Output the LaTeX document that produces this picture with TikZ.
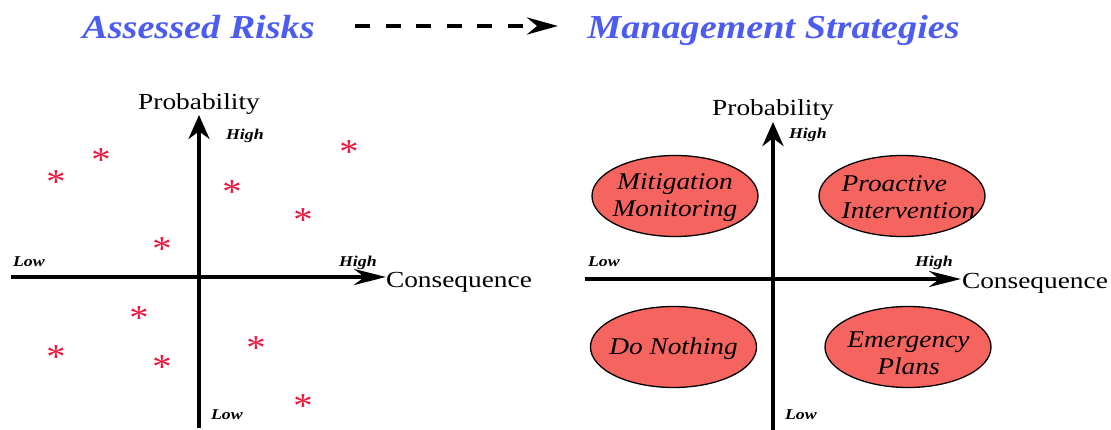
\documentclass[tikz,border=0pt]{standalone}
\usepackage{fontspec}
\setmainfont{Liberation Serif}
\usetikzlibrary{arrows.meta,shapes.geometric}
\definecolor{titleblue}{RGB}{76,92,240}
\definecolor{ellfill}{RGB}{246,100,96}
\definecolor{astred}{RGB}{240,20,60}
\tikzset{
  txt/.style={inner sep=0pt, outer sep=0pt},
  ttl/.style={txt, xscale=1.14, text=titleblue, font=\fontsize{33.5}{33.5}\selectfont\bfseries\itshape, anchor=base},
  axlab/.style={txt, xscale=1.19, font=\fontsize{23}{23}\selectfont},
  hl/.style={txt, xscale=1.19, font=\fontsize{15}{15}\selectfont\bfseries\itshape, anchor=base west},
  haxis/.style={line width=4pt, -{Stealth[length=32pt,width=16pt]}},
  vaxis/.style={line width=4pt, -{Stealth[length=24pt,width=21pt]}},
  strat/.style={ellipse, draw=black, line width=1.3pt, fill=ellfill, minimum width=166pt, minimum height=81pt, inner sep=0pt},
  stext/.style={txt, xscale=1.14, font=\fontsize{24}{27}\selectfont\itshape},
  ast/.style={txt, xscale=1.1, text=astred, font=\fontsize{35}{35}\selectfont, anchor=base},
}
\begin{document}
\begin{tikzpicture}[x=1pt,y=-1pt]
\useasboundingbox (0,0) rectangle (1111,430);
% titles
\node[ttl] (t1) at (198.5,39) {Assessed Risks};
\node[ttl] (t2) at (773.5,39) {Management Strategies};
\coordinate (d1) at (355,26);
\coordinate (d2) at (558,26);
\draw[line width=4pt, dash pattern=on 15pt off 15.6pt, -{Stealth[length=31pt,width=17pt]}] (d1) -- (d2);

% left chart
\coordinate (lh0) at (11,277);
\coordinate (lh1) at (386,277);
\coordinate (lv0) at (199,428);
\coordinate (lv1) at (199,115);
\draw[haxis] (lh0) -- (lh1);
\draw[vaxis] (lv0) -- (lv1);
\node[axlab, anchor=base] (lp) at (199,110) {Probability};
\node[axlab, anchor=base west] (lc) at (386,288) {Consequence};
\node[hl] (llo1) at (13,267) {Low};
\node[hl] (lhi1) at (339,267) {High};
\node[hl] (lhi2) at (226,140) {High};
\node[hl] (llo2) at (211,419) {Low};

% asterisks
\foreach \n/\x/\y in {1/101/155, 2/56/177, 3/232/187, 4/349/147, 5/303/215, 6/162/244, 7/139/313, 8/56/352, 9/162/362, 10/256/343, 11/303/401}{
  \node[ast] (a\n) at (\x,\y+16.5) {*};
}

% right chart
\coordinate (rh0) at (585,279);
\coordinate (rh1) at (961,279);
\coordinate (rv0) at (773,430);
\coordinate (rv1) at (773,122);
\draw[haxis] (rh0) -- (rh1);
\draw[vaxis] (rv0) -- (rv1);
\node[axlab, anchor=base] (rp) at (773,116) {Probability};
\node[axlab, anchor=base west] (rc) at (962,289) {Consequence};
\node[hl] (rlo1) at (588,267) {Low};
\node[hl] (rhi1) at (915,267) {High};
\node[hl] (rhi2) at (789,139) {High};
\node[hl] (rlo2) at (785,419) {Low};

\node[strat] (mm) at (675,196) {};
\node[strat] (pi) at (902,196) {};
\node[strat] (dn) at (673.5,347) {};
\node[strat] (ep) at (908,347) {};
\node[stext, align=center] (mmt) at (675,198) {Mitigation\\Monitoring};
\node[stext, align=left] (pit) at (908.5,197) {Proactive\\Intervention};
\node[stext, align=center] (dnt) at (673.5,349) {Do Nothing};
\node[stext, align=center] (ept) at (908.5,353) {Emergency\\Plans};
\end{tikzpicture}
\end{document}
